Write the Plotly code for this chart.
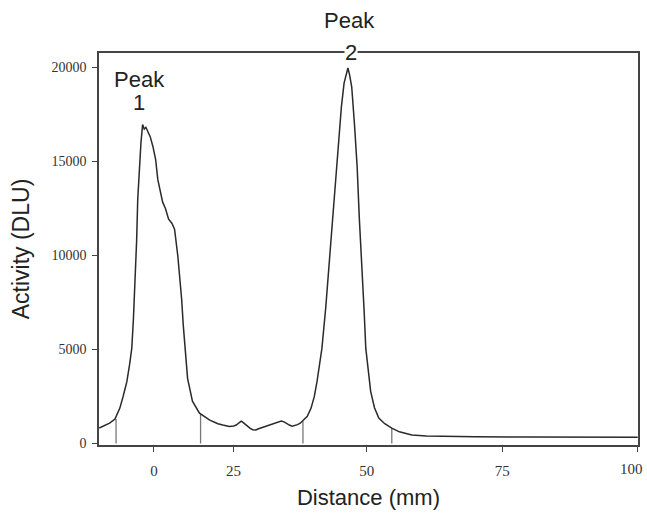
import plotly.graph_objects as go

# Trace (distance in mm, activity in DLU)
distance = [0.6, 1.5, 2.5, 3.5, 4.4, 5.0, 5.7, 6.2, 6.6, 6.9, 7.2, 7.5, 7.7, 8.0, 8.3, 8.6,
            8.9, 9.2, 9.6, 10.0, 10.5, 11.0, 11.4, 11.9, 12.3, 12.8, 13.4, 14.0, 14.5,
            15.1, 15.5, 15.8, 16.1, 16.4, 16.9, 17.8, 19.1, 21.0, 22.5, 23.4, 24.6,
            25.4, 25.9, 26.4, 26.8, 27.3, 27.8, 28.4, 28.9, 29.5, 30.0, 30.7, 31.4,
            32.1, 32.8, 33.5, 34.2, 34.7, 35.2, 35.7, 36.2, 36.7, 37.2, 37.7, 38.1,
            39.0, 39.7, 40.3, 40.8, 41.3, 41.7, 42.4, 43.0, 43.5, 43.9, 44.4, 44.9,
            45.3, 45.8, 46.2, 46.5, 46.8, 47.2, 47.7, 48.2, 48.6, 49.1, 49.5, 49.8,
            50.3, 50.7, 51.4, 52.2, 53.3, 54.6, 56.0, 58.3, 61.0, 64.5, 70.0, 80.0,
            90.0, 100.0]
activity = [820, 950, 1080, 1300, 1880, 2500, 3300, 4200, 5050, 6600, 8600, 10800, 12980,
            14600, 16000, 16940, 16700, 16800, 16570, 16300, 15780, 15100, 14030, 13400,
            12820, 12500, 11920, 11700, 11390, 9960, 8800, 7690, 6300, 5050, 3460, 2250,
            1610, 1240, 1050, 980, 900,
            930, 980, 1100, 1190, 1080, 950, 820, 730, 720, 780, 850, 920,
            990, 1050, 1120, 1190, 1150, 1050, 980, 920, 950, 1000, 1080, 1190,
            1450, 1880, 2500, 3300, 4200, 5050, 7200, 9440, 11200, 12980,
            14800, 16510, 17900, 19160, 19700, 19950, 19600, 18950, 17000, 14730, 12000,
            9440, 7000, 5050, 3700, 2770, 1900, 1350, 1050, 820, 620, 450, 400, 380, 360,
            340, 335, 330]

# Peak boundary markers
divider_x = [3.7, 19.3, 38.2, 54.6]
divider_h = [1300, 1560, 1180, 820]

# Axis ticks as printed
xtick_vals = [10.7, 25.4, 50, 75, 100]
xtick_text = ["0", "25", "50", "75", "100"]
ytick_vals = [0, 5000, 10000, 15000, 20000]
ytick_text = ["0", "5000", "10000", "15000", "20000"]

# Peak labels: (text, x in mm, y in paper units)
peak_labels = ["Peak", "1", "Peak", "2"]
peak_x = [8.0, 8.0, 46.7, 47.0]
peak_y = [0.9315, 0.873, 1.0838, 1.0025]

seg_x, seg_y = [], []
for xv, hv in zip(divider_x, divider_h):
    seg_x += [xv, xv, None]
    seg_y += [0, hv, None]

fig = go.Figure()
fig.add_trace(go.Scatter(x=seg_x, y=seg_y, mode="lines",
                         line=dict(color="#777777", width=1.3), hoverinfo="skip"))
fig.add_trace(go.Scatter(x=distance, y=activity, mode="lines",
                         line=dict(color="#2a2a2a", width=1.5)))

lab_font = dict(family="Liberation Sans, Arial", size=22, color="#222")
for i, (t, xv, yv) in enumerate(zip(peak_labels, peak_x, peak_y)):
    fig.add_annotation(x=xv, y=yv, xref="x", yref="paper", text=t, showarrow=False,
                       font=lab_font, align="center", yanchor="middle",
                       bgcolor="white" if i == 3 else None, borderpad=0)

tick_font = dict(family="Liberation Serif, Times New Roman", size=15, color="#333")
# the last x label sits at the right edge; draw it kept inside the page
fig.add_annotation(x=xtick_vals[-1], y=-0.061, xref="x", yref="paper",
                   text=xtick_text[-1], showarrow=False, font=tick_font,
                   xanchor="right", xshift=7, yanchor="middle")

fig.update_layout(
    width=647, height=513,
    margin=dict(l=99, r=7, t=53, b=66),
    paper_bgcolor="white", plot_bgcolor="white",
    showlegend=False,
    xaxis=dict(range=[0.55, 100.05], tickvals=xtick_vals,
               ticktext=xtick_text[:-1] + [""],
               showgrid=False, zeroline=False, showline=True, mirror=True,
               linecolor="#444", linewidth=1.5, ticks="outside", ticklen=5,
               tickcolor="#444", ticklabelstandoff=6,
               tickfont=tick_font,
               title=dict(text="Distance (mm)", standoff=12,
                          font=dict(family="Liberation Sans, Arial", size=22, color="#222"))),
    yaxis=dict(range=[-80, 20745], tickvals=ytick_vals, ticktext=ytick_text,
               showgrid=False, zeroline=False, showline=True, mirror=True,
               linecolor="#444", linewidth=1.5, ticks="outside", ticklen=5,
               tickcolor="#444", ticklabelstandoff=3,
               tickfont=dict(family="Liberation Serif, Times New Roman", size=14, color="#333"),
               title=dict(text="Activity (DLU)", standoff=15,
                          font=dict(family="Liberation Sans, Arial", size=23, color="#222"))),
)

fig.write_html("out.html", config={"displayModeBar": False},
               post_script="document.body.style.margin='0';document.body.style.overflow='hidden';")
